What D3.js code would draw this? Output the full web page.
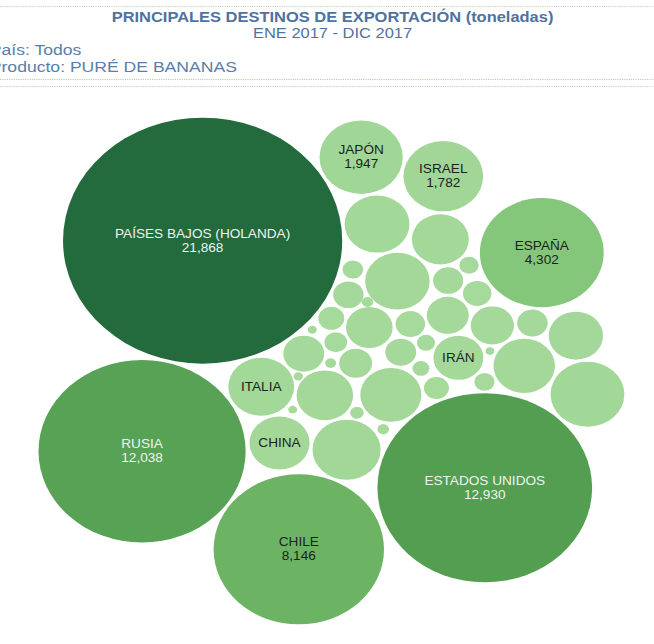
<!DOCTYPE html>
<html>
<head>
<meta charset="utf-8">
<script src="https://cdn.jsdelivr.net/npm/d3@7"></script>
<style>
  body { margin: 0; background: #fff; font-family: Arial, "Liberation Sans", sans-serif; }
</style>
</head>
<body>
<svg id="chart"></svg>
<script>
// destinos con etiqueta (toneladas)
const destinos = ["PAÍSES BAJOS (HOLANDA)", "ESTADOS UNIDOS", "RUSIA", "CHILE", "ESPAÑA", "JAPÓN", "ISRAEL", "ITALIA", "CHINA", "IRÁN"];
const toneladas = [21868, 12930, 12038, 8146, 4302, 1947, 1782, 1215, 1015, 700];
// resto de destinos (sin etiqueta visible)
const otros = [1526, 1300, 1180, 1165, 1060, 1045, 910, 895, 830, 610, 525, 495, 470, 305, 268, 262, 258, 255, 244, 226, 190, 175, 145, 120, 115, 104, 92, 80, 52, 38, 36, 34, 24, 23, 22, 21];

const titulo = "PRINCIPALES DESTINOS DE EXPORTACIÓN (toneladas)";
const periodo = "ENE 2017  - DIC 2017";
const filtros = ["País:  Todos", "Producto: PURÉ DE BANANAS"];

// orden en que se empacan las burbujas grandes (las chicas van antes, de menor a mayor)
const ultimos = ["ESPAÑA", "PAÍSES BAJOS (HOLANDA)", "CHILE", "ESTADOS UNIDOS", "RUSIA"];

const width = 654, height = 644;
const sx = 1.135; // la imagen original viene estirada a lo ancho
const w = width / sx;

const svg = d3.select("#chart").attr("width", width).attr("height", height);
const root = svg.append("g").attr("transform", `scale(${sx},1)`);

// encabezado
root.append("line").attr("x1", 0).attr("x2", w).attr("y1", 6.5).attr("y2", 6.5)
  .attr("stroke", "#b9d9b0").attr("stroke-dasharray", "1,1");
root.append("text").attr("x", 293).attr("y", 22).attr("text-anchor", "middle")
  .attr("font-size", 14.5).attr("font-weight", "bold").attr("fill", "#4f72a0").text(titulo);
root.append("text").attr("x", 293).attr("y", 38).attr("text-anchor", "middle")
  .attr("font-size", 14.5).attr("fill", "#4f72a0").text(periodo);
root.selectAll(".filtro").data(filtros).join("text").attr("class", "filtro")
  .attr("x", -9).attr("y", (d, i) => 55 + i * 17)
  .attr("font-size", 15.5).attr("fill", "#5a7eab").text(d => d);
root.append("line").attr("x1", 0).attr("x2", w).attr("y1", 79.5).attr("y2", 79.5)
  .attr("stroke", "#a9d3a0").attr("stroke-dasharray", "1,1");
root.append("line").attr("x1", 0).attr("x2", w).attr("y1", 86.5).attr("y2", 86.5)
  .attr("stroke", "#c8c8c8").attr("stroke-dasharray", "1,1");

// burbujas
const r = d3.scaleSqrt().domain([0, 21868]).range([0, 123]);
const color = d3.scaleLinear()
  .domain([0, 2000, 4302, 8146, 12500, 21868])
  .range(["#a6da9c", "#a0d696", "#84c77a", "#6cb464", "#55a052", "#236a3c"]);

let nodes = destinos.map((d, i) => ({ name: d, value: toneladas[i] }))
  .concat(otros.map(v => ({ name: "", value: v })))
  .map(d => ({ ...d, r: r(d.value) + 1.5 }));
const chicas = nodes.filter(d => !ultimos.includes(d.name)).sort((a, b) => a.value - b.value);
nodes = chicas.concat(ultimos.map(n => nodes.find(d => d.name === n)));

d3.packSiblings(nodes);
d3.forceSimulation(nodes)
  .force("x", d3.forceX(0).strength(0.03))
  .force("y", d3.forceY(0).strength(0.03))
  .force("c", d3.forceCollide(d => d.r).iterations(3))
  .stop().tick(250);

// espejo + giro
const ang = 245 * Math.PI / 180;
nodes.forEach(d => {
  const x = -d.x, y = d.y;
  d.x = x * Math.cos(ang) - y * Math.sin(ang);
  d.y = x * Math.sin(ang) + y * Math.cos(ang);
  d.vx = d.vy = 0;
});
// aplastar apenas el racimo (un poco más ancho que alto)
d3.forceSimulation(nodes)
  .force("x", d3.forceX(0).strength(0.026))
  .force("y", d3.forceY(0).strength(0.034))
  .force("c", d3.forceCollide(d => d.r).iterations(3))
  .stop().tick(200);

const x0 = d3.min(nodes, d => d.x - d.r), x1 = d3.max(nodes, d => d.x + d.r);
const y0 = d3.min(nodes, d => d.y - d.r), y1 = d3.max(nodes, d => d.y + d.r);
const x = d3.scaleLinear().domain([x0, x1]).range([292 - (x1 - x0) / 2, 292 + (x1 - x0) / 2]);
const y = d3.scaleLinear().domain([y0, y1]).range([371 - (y1 - y0) / 2, 371 + (y1 - y0) / 2]);

const fmt = d3.format(",");
const bub = root.append("g").selectAll("g").data(nodes).join("g")
  .attr("transform", d => `translate(${x(d.x)},${y(d.y)})`);
bub.append("circle").attr("r", d => d.r - 1.5).attr("fill", d => color(d.value));
const lab = bub.filter(d => d.name).append("text")
  .attr("text-anchor", "middle").attr("font-size", 12)
  .attr("fill", d => d.value > 10000 ? "#eef4ee" : "#1e1e1e");
lab.each(function (d) {
  const t = d3.select(this);
  const conValor = d.r - 1.5 > 32;
  t.append("tspan").attr("x", 0).attr("y", conValor ? -3 : 4).text(d.name);
  if (conValor) t.append("tspan").attr("x", 0).attr("y", 11).text(fmt(d.value));
});
</script>
</body>
</html>
